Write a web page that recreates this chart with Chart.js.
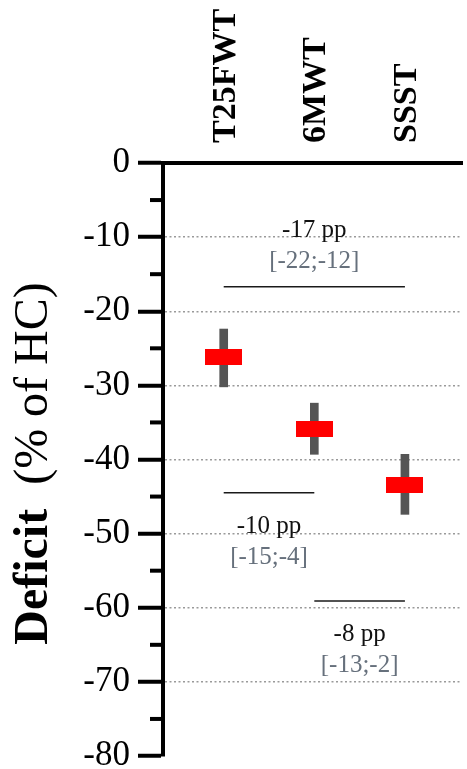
<!DOCTYPE html>
<html>
<head>
<meta charset="utf-8">
<title>Deficit</title>
<script src="https://cdn.jsdelivr.net/npm/chart.js@4.4.1/dist/chart.umd.min.js"></script>
<style>
  html, body { margin: 0; padding: 0; background: #fff; }
  #wrap { width: 467px; height: 769px; }
</style>
</head>
<body>
<div id="wrap"><canvas id="deficitChart"></canvas></div>
<script>
// ---- data ----
const categories = ["T25FWT", "6MWT", "SSST"];
const meanDeficit = [-26.2, -35.9, -43.5];
const ciHigh = [-22.4, -32.4, -39.3];
const ciLow = [-30.2, -39.3, -47.4];
const yTicks = [0, -10, -20, -30, -40, -50, -60, -70, -80];

// pairwise comparisons (from / to category index, height of the bracket line)
const compFrom = [0, 0, 1];
const compTo = [2, 1, 2];
const compLevel = [-16.7, -44.5, -59.1];
const compDiff = ["-17 pp", "-10 pp", "-8 pp"];
const compCI = ["[-22;-12]", "[-15;-4]", "[-13;-2]"];
const compAbove = [true, false, false];

const SERIF = "'Liberation Serif', 'Times New Roman', serif";

// red mean marker
const marker = document.createElement("canvas");
marker.width = 37;
marker.height = 16;
const mctx = marker.getContext("2d");
mctx.fillStyle = "#ff0000";
mctx.fillRect(0, 0, marker.width, marker.height);

const extras = {
  id: "extras",
  afterDatasetsDraw(chart) {
    const ctx = chart.ctx;
    const xs = chart.scales.x;
    const ys = chart.scales.y;
    ctx.save();
    ctx.textAlign = "center";
    ctx.textBaseline = "alphabetic";
    compFrom.forEach((f, i) => {
      const xm = (xs.getPixelForValue(f) + xs.getPixelForValue(compTo[i])) / 2;
      const yl = ys.getPixelForValue(compLevel[i]);
      const y1 = compAbove[i] ? yl - 50 : yl + 40;
      const y2 = compAbove[i] ? yl - 19 : yl + 71;
      ctx.font = "25px " + SERIF;
      ctx.fillStyle = "#111";
      ctx.fillText(compDiff[i], xm, y1);
      ctx.fillStyle = "#66707c";
      ctx.fillText(compCI[i], xm, y2);
    });
    ctx.restore();
  },
  afterDraw(chart) {
    const ctx = chart.ctx;
    const ys = chart.scales.y;
    const area = chart.chartArea;

    // minor ticks between the labelled ones
    ctx.save();
    ctx.strokeStyle = "#000";
    ctx.lineWidth = 4;
    for (let i = 0; i < yTicks.length - 1; i++) {
      const y = ys.getPixelForValue((yTicks[i] + yTicks[i + 1]) / 2);
      ctx.beginPath();
      ctx.moveTo(area.left - 13, y);
      ctx.lineTo(area.left, y);
      ctx.stroke();
    }
    ctx.restore();

    // y title: bold "Deficit" + regular "(% of HC)"
    ctx.save();
    ctx.translate(47, (area.top + area.bottom) / 2 + 4);
    ctx.rotate(-Math.PI / 2);
    ctx.fillStyle = "#000";
    ctx.textAlign = "left";
    ctx.textBaseline = "alphabetic";
    const boldFont = "bold 48px " + SERIF;
    const normFont = "48px " + SERIF;
    const t1 = "Deficit";
    const t2 = "  (% of HC)";
    ctx.font = boldFont;
    const w1 = ctx.measureText(t1).width;
    ctx.font = normFont;
    const w2 = ctx.measureText(t2).width;
    const start = -(w1 + w2) / 2;
    ctx.font = boldFont;
    ctx.fillText(t1, start, 0);
    ctx.font = normFont;
    ctx.fillText(t2, start + w1, 0);
    ctx.restore();
  }
};

const datasets = [
  {
    type: "scatter",
    label: "Mean",
    data: categories.map((c, i) => ({ x: i, y: meanDeficit[i] })),
    pointStyle: marker,
    order: 0
  },
  {
    type: "bar",
    label: "95% CI",
    data: categories.map((c, i) => ({ x: i, y: [ciLow[i], ciHigh[i]] })),
    backgroundColor: "#555555",
    borderWidth: 0,
    barThickness: 8,
    order: 1
  }
];

compFrom.forEach((f, i) => {
  datasets.push({
    type: "line",
    label: compDiff[i],
    data: [{ x: f, y: compLevel[i] }, { x: compTo[i], y: compLevel[i] }],
    borderColor: "#1a1a1a",
    borderWidth: 1.5,
    pointRadius: 0,
    order: 2
  });
});

new Chart(document.getElementById("deficitChart"), {
  type: "bar",
  data: { datasets: datasets },
  options: {
    responsive: true,
    maintainAspectRatio: false,
    animation: false,
    events: [],
    layout: { padding: { left: 0, top: 0, right: 0, bottom: 13 } },
    plugins: {
      legend: { display: false },
      tooltip: { enabled: false }
    },
    scales: {
      x: {
        type: "linear",
        position: "top",
        offset: false,
        min: -0.67,
        max: 2.63,
        afterBuildTicks: s => { s.ticks = categories.map((c, i) => ({ value: i })); },
        ticks: {
          callback: (v, i) => categories[i],
          font: { family: SERIF, size: 34, weight: "bold" },
          color: "#000",
          minRotation: 90,
          maxRotation: 90,
          padding: 20,
          labelOffset: 43,
          autoSkip: false
        },
        grid: { display: false, drawTicks: false, offset: false },
        border: { display: true, color: "#000", width: 4 },
        afterFit: s => { s.height = 163; s.paddingLeft = 0; s.paddingRight = 0; }
      },
      y: {
        type: "linear",
        min: -80,
        max: 0,
        afterBuildTicks: s => { s.ticks = yTicks.map(v => ({ value: v })); },
        ticks: {
          font: { family: SERIF, size: 35 },
          color: "#000",
          padding: 8,
          autoSkip: false
        },
        grid: {
          color: c => (c.tick && c.tick.value < 0 && c.tick.value > -80) ? "#9a9a9a" : "rgba(0,0,0,0)",
          lineWidth: 1.5,
          drawTicks: true,
          tickLength: 25,
          tickWidth: 4,
          tickColor: "#000"
        },
        border: { display: true, color: "#000", width: 4, dash: [2, 2.5] },
        afterFit: s => { s.width = 163; s.paddingTop = 0; s.paddingBottom = 0; }
      }
    }
  },
  plugins: [extras]
});
</script>
</body>
</html>
